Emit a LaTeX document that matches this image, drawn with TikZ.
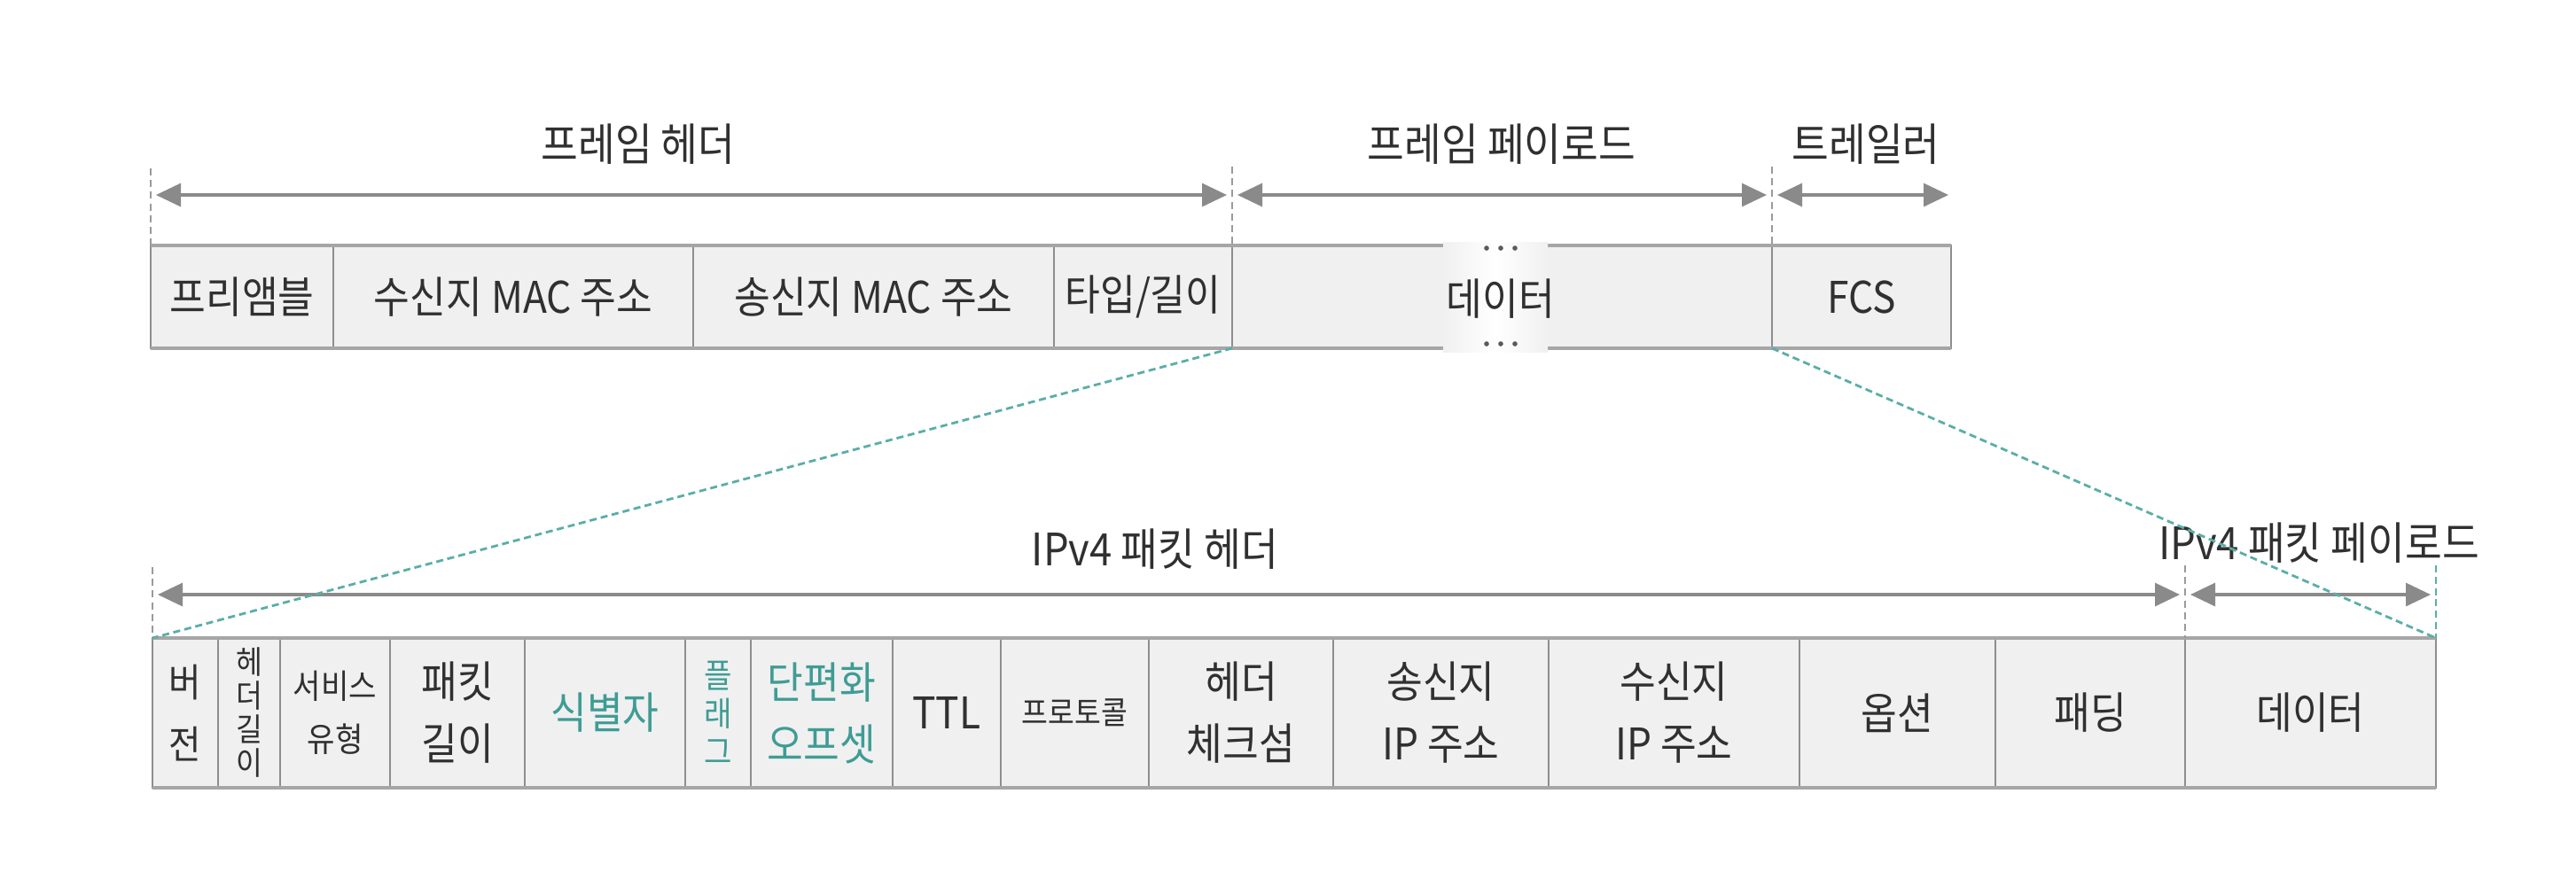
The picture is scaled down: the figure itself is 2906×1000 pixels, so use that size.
\documentclass[tikz,border=0pt]{standalone}
\usepackage{fontspec}
\setmainfont{Noto Sans CJK KR}[FakeStretch=0.9]
\usetikzlibrary{arrows.meta}
\definecolor{txt}{HTML}{303030}
\definecolor{tealtxt}{HTML}{3F9C95}
\definecolor{tealline}{HTML}{5AAEA8}
\definecolor{cellfill}{HTML}{F0F0F0}
\definecolor{cellline}{HTML}{8E8E8E}
\definecolor{borderline}{HTML}{A6A6A6}
\definecolor{arr}{HTML}{8A8A8A}
\definecolor{guide}{HTML}{9A9A9A}
\newcommand\fsz[2]{\fontsize{#1}{#2}\selectfont}
\newcommand\mkcell[7][]{\node[cellbox,#1,minimum width={(#4-#3)*0.25pt},minimum height={(#6-#5)*0.25pt}] (#2) at ({(#3+#4)/2},{(#5+#6)/2}) {#7};}
\begin{document}
\begin{tikzpicture}[x=0.25pt,y=-0.25pt,
  cellbox/.style={draw=cellline, line width=0.6pt, fill=cellfill, inner sep=0pt, outer sep=0pt, text=txt, align=center, font=\fsz{12.3}{17.5}},
  tealtext/.style={text=tealtxt},
  edgeline/.style={draw=borderline, line width=1.1pt},
  label/.style={text=txt, font=\fsz{12.6}{14}, inner sep=0pt},
  dimarrow/.style={draw=arr, line width=0.8pt, {Triangle[length=7pt,width=6.5pt]}-{Triangle[length=7pt,width=6.5pt]}},
  guideline/.style={draw=guide, line width=0.4pt, dash pattern=on 2pt off 1.3pt},
  tealdash/.style={draw=tealline, line width=0.7pt, dash pattern=on 2pt off 1.2pt},
  dotmark/.style={fill=txt!80, draw=none}
]
\useasboundingbox (0,0) rectangle (2906,1000);
\fill[white] (0,0) rectangle (2906,1000);

% ---------- top row ----------
\mkcell{pre}{170}{376}{277}{393}{프리앰블}
\mkcell{dmac}{376}{782}{277}{393}{수신지 MAC 주소}
\mkcell{smac}{782}{1189}{277}{393}{송신지 MAC 주소}
\mkcell[font=\fsz{12}{17.5}]{tlen}{1189}{1390}{277}{393}{타입/길이}
\mkcell{fdata}{1390}{1999}{277}{393}{}
\mkcell{fcs}{1999}{2201}{277}{393}{FCS}
\draw[edgeline] (pre.north west) -- (1628,277) (1746,277) -- (fcs.north east);
\draw[edgeline] (pre.south west) -- (1628,393) (1746,393) -- (fcs.south east);
\shade[left color=cellfill, right color=cellfill, middle color=white, shading=axis] (1628,273) rectangle (1746,397);
\node[text=txt, font=\fsz{12.3}{14}, inner sep=0pt] (fdatatext) at (1693,337) {데이터};
\foreach \xx in {1677,1693,1709}{
  \fill[dotmark] (\xx,280) circle (0.7pt);
  \fill[dotmark] (\xx,388) circle (0.7pt);
}

% top labels and dimension arrows
\node[label] (lfh) at (720,163) {프레임 헤더};
\node[label] (lfp) at (1694,163) {프레임 페이로드};
\node[label] (ltr) at (2105,163) {트레일러};
\coordinate (g1t) at (170,190);
\coordinate (g2t) at (1390,188);
\coordinate (g3t) at (1999,188);
\draw[guideline] (g1t) -- (pre.north west);
\draw[guideline] (g2t) -- (tlen.north east);
\draw[guideline] (g3t) -- (fcs.north west);
\coordinate (a1l) at (176,220);
\coordinate (a1r) at (1384,220);
\coordinate (a2l) at (1396,220);
\coordinate (a2r) at (1993,220);
\coordinate (a3l) at (2005,220);
\coordinate (a3r) at (2198,220);
\draw[dimarrow] (a1l) -- (a1r);
\draw[dimarrow] (a2l) -- (a2r);
\draw[dimarrow] (a3l) -- (a3r);

% ---------- bottom row ----------
\mkcell[font=\fsz{11}{17.5}]{ver}{172}{246}{720}{889}{버\\전}
\mkcell[font=\fsz{9}{9.5}]{ihl}{246}{316}{720}{889}{헤\\더\\길\\이}
\mkcell[font=\fsz{9.5}{15}]{tos}{316}{440}{720}{889}{서비스\\유형}
\mkcell{plen}{440}{592}{720}{889}{패킷\\길이}
\mkcell[tealtext]{ident}{592}{773}{720}{889}{식별자}
\mkcell[tealtext,font=\fsz{9.5}{10.7}]{flag}{773}{847}{720}{889}{플\\래\\그}
\mkcell[tealtext]{frag}{847}{1007}{720}{889}{단편화\\오프셋}
\mkcell{ttl}{1007}{1129}{720}{889}{TTL}
\mkcell[font=\fsz{9}{12}]{proto}{1129}{1296}{720}{889}{프로토콜}
\mkcell{hck}{1296}{1504}{720}{889}{헤더\\체크섬}
\mkcell{sip}{1504}{1747}{720}{889}{송신지\\IP 주소}
\mkcell{dip}{1747}{2030}{720}{889}{수신지\\IP 주소}
\mkcell{opt}{2030}{2251}{720}{889}{옵션}
\mkcell{pad}{2251}{2465}{720}{889}{패딩}
\mkcell{pdata}{2465}{2748}{720}{889}{데이터}
\draw[edgeline] (ver.north west) -- (pdata.north east);
\draw[edgeline] (ver.south west) -- (pdata.south east);

% bottom labels and dimension arrows
\node[label] (lih) at (1303,620) {IPv4 패킷 헤더};
\node[label] (lip) at (2616,613) {IPv4 패킷 페이로드};
\coordinate (g4t) at (172,640);
\coordinate (g5t) at (2465,638);
\coordinate (g6t) at (2748,638);
\draw[guideline] (g4t) -- (ver.north west);
\draw[guideline] (g5t) -- (pdata.north west);
\draw[tealdash] (g6t) -- (pdata.north east);
\coordinate (b1l) at (178,671);
\coordinate (b1r) at (2459,671);
\coordinate (b2l) at (2471,671);
\coordinate (b2r) at (2742,671);
\draw[dimarrow] (b1l) -- (b1r);
\draw[dimarrow] (b2l) -- (b2r);

% zoom connectors
\draw[tealdash] (fdata.south west) -- (ver.north west);
\draw[tealdash] (fcs.south west) -- (pdata.north east);
\end{tikzpicture}
\end{document}
